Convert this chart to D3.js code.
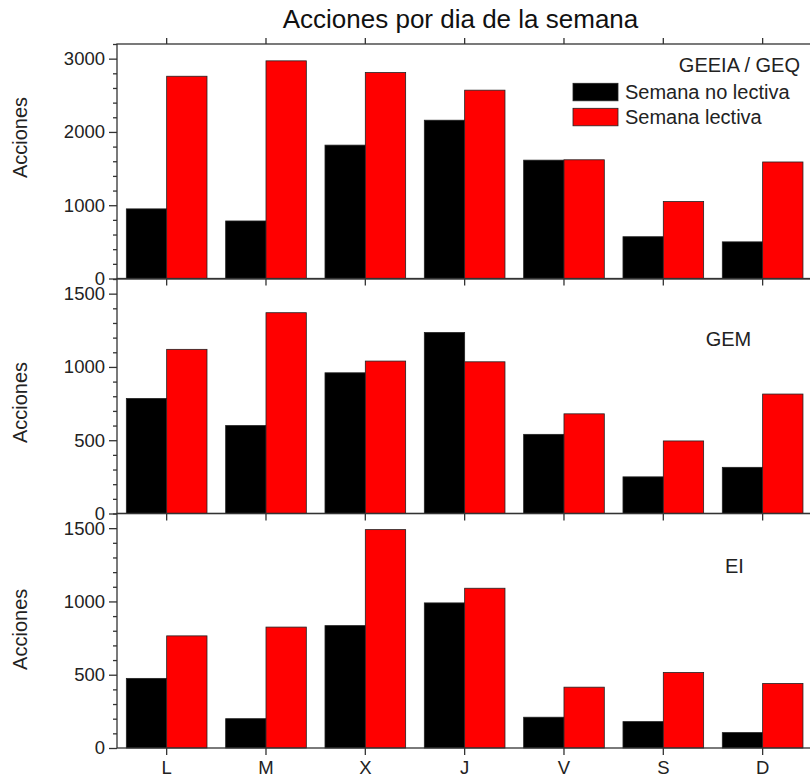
<!DOCTYPE html>
<html>
<head>
<meta charset="utf-8">
<script src="https://cdn.jsdelivr.net/npm/d3@7"></script>
<style>
  body { margin: 0; background: #fff; }
  svg { font-family: 'Liberation Sans', Arial, sans-serif; }
  .axis path { display: none; }
  .axis line { stroke: #333; stroke-width: 1.3; }
  .axis text { fill: #222; font-size: 18.5px; }
</style>
</head>
<body>
<div id="chart"></div>
<script>
'use strict';
// Data
const days = ['L', 'M', 'X', 'J', 'V', 'S', 'D']
const seriesNames = ['Semana no lectiva', 'Semana lectiva']
const seriesColors = ['#000000', '#ff0000']

const geeiaNoLectiva = [950, 785, 1820, 2160, 1615, 570, 500]
const geeiaLectiva = [2760, 2970, 2810, 2570, 1620, 1050, 1590]
const gemNoLectiva = [785, 600, 960, 1235, 540, 250, 315]
const gemLectiva = [1120, 1370, 1040, 1035, 680, 495, 815]
const eiNoLectiva = [475, 200, 835, 990, 210, 180, 105]
const eiLectiva = [765, 825, 1490, 1090, 415, 515, 440]

const panelNames = ['GEEIA / GEQ', 'GEM', 'EI']
const panelMax = [3200, 1600, 1600]
const panelMajor = [[0, 1000, 2000, 3000], [0, 500, 1000, 1500], [0, 500, 1000, 1500]]
const panelMinorStep = [200, 100, 100]

// Layout
const W = 810, H = 778
const left = 117, right = 812.3
const panelTops = [44, 279, 513.5]
const panelBottoms = [278.5, 513.5, 748]
const ylabelY = [137.5, 402.5, 629.3]
const nameLayout = [
    { x: 800, y: 71.7, anchor: 'end' },
    { x: 705.7, y: 345.7, anchor: 'start' },
    { x: 725, y: 572.7, anchor: 'start' }
]
const panelSeries = [
    [geeiaNoLectiva, geeiaLectiva],
    [gemNoLectiva, gemLectiva],
    [eiNoLectiva, eiLectiva]
]

const svg = d3.select('#chart')
    .append('svg')
    .attr('width', W)
    .attr('height', H)

const x = d3.scaleBand().domain(days).range([left, right])
    .paddingInner(0.188).paddingOuter(0.094)
const xSub = d3.scaleBand().domain([0, 1]).range([0, x.bandwidth()])

// Title
svg.append('text')
    .attr('x', 460.5)
    .attr('y', 28)
    .attr('text-anchor', 'middle')
    .attr('font-size', 26)
    .attr('fill', '#111')
    .text('Acciones por dia de la semana')

panelSeries.forEach((series, p) => {
    const y = d3.scaleLinear().domain([0, panelMax[p]]).range([panelBottoms[p], panelTops[p]])
    const g = svg.append('g')

    // Bars
    series.forEach((vals, s) => {
        g.selectAll(null).data(vals).enter().append('rect')
            .attr('x', (d, i) => x(days[i]) + xSub(s))
            .attr('y', d => y(d))
            .attr('width', xSub.bandwidth())
            .attr('height', d => y(0) - y(d))
            .attr('fill', seriesColors[s])
            .attr('stroke', '#222')
            .attr('stroke-width', 0.8)
    })

    // Minor y ticks
    const minors = d3.range(0, panelMax[p] + 1, panelMinorStep[p]).filter(v => !panelMajor[p].includes(v))
    g.append('g')
        .attr('class', 'axis')
        .attr('transform', `translate(${left},0)`)
        .call(d3.axisLeft(y).tickValues(minors).tickSize(4).tickFormat(''))

    // Major y ticks
    g.append('g')
        .attr('class', 'axis')
        .attr('transform', `translate(${left},0)`)
        .call(d3.axisLeft(y).tickValues(panelMajor[p]).tickSize(8).tickPadding(4).tickFormat(d3.format('d')))

    // Bottom x ticks
    const xAxis = g.append('g')
        .attr('class', 'axis')
        .attr('transform', `translate(0,${panelBottoms[p]})`)
        .call(d3.axisBottom(x).tickSize(7).tickPadding(6))
    xAxis.selectAll('text').attr('font-size', 19.5)
    if (p < 2) xAxis.selectAll('text').remove()

    // Top x ticks on first panel
    if (p === 0) {
        g.append('g')
            .attr('class', 'axis')
            .attr('transform', `translate(0,${panelTops[p]})`)
            .call(d3.axisTop(x).tickSize(6).tickFormat(''))
    }

    // Frame
    g.append('rect')
        .attr('x', left)
        .attr('y', panelTops[p])
        .attr('width', right - left)
        .attr('height', panelBottoms[p] - panelTops[p])
        .attr('fill', 'none')
        .attr('stroke', '#333')
        .attr('stroke-width', 1.3)

    // Y label
    svg.append('text')
        .attr('transform', `translate(27,${ylabelY[p]}) rotate(-90)`)
        .attr('text-anchor', 'middle')
        .attr('font-size', 20)
        .attr('fill', '#222')
        .text('Acciones')

    // Panel name
    svg.append('text')
        .attr('x', nameLayout[p].x)
        .attr('y', nameLayout[p].y)
        .attr('text-anchor', nameLayout[p].anchor)
        .attr('font-size', 20)
        .attr('fill', '#222')
        .text(panelNames[p])
})

// Legend
const legend = svg.append('g')
seriesNames.forEach((name, s) => {
    legend.append('rect')
        .attr('x', 573)
        .attr('y', 83.3 + s * 25)
        .attr('width', 45)
        .attr('height', 17.5)
        .attr('fill', seriesColors[s])
        .attr('stroke', '#222')
        .attr('stroke-width', 0.8)
    legend.append('text')
        .attr('x', 625)
        .attr('y', 99 + s * 24.5)
        .attr('font-size', 20)
        .attr('fill', '#222')
        .text(name)
})
</script>
</body>
</html>
